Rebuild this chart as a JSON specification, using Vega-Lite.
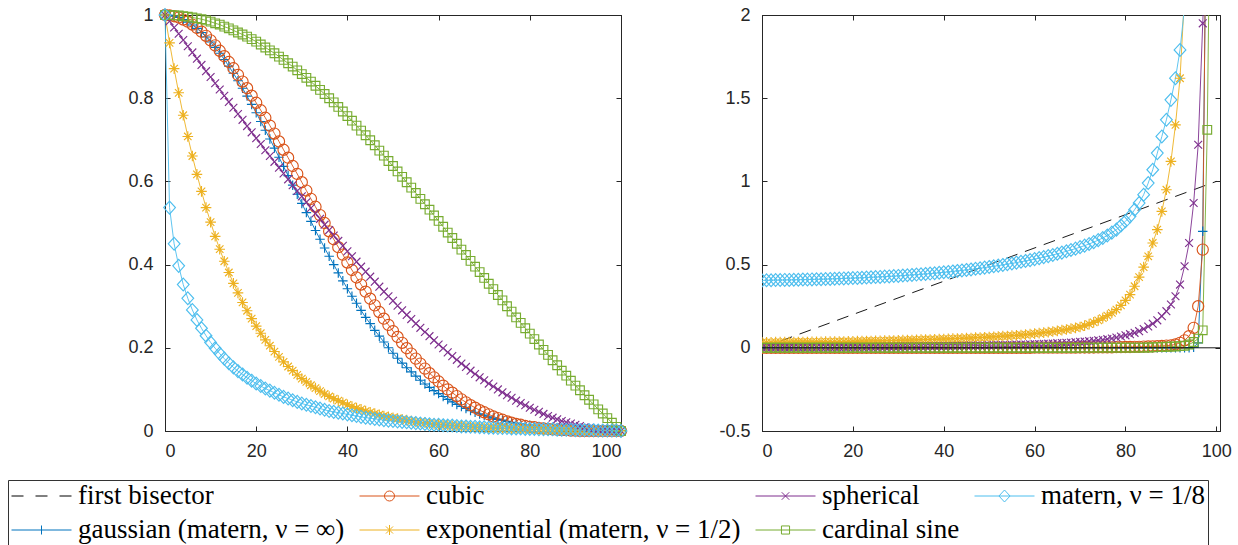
{
  "$schema": "https://vega.github.io/schema/vega-lite/v6.json",
  "padding": {"left": 7, "top": 5, "right": 5, "bottom": 0},
  "bounds": "flush",
  "spacing": 141,
  "config": {
    "view": {"stroke": "#262626", "strokeWidth": 1},
    "axis": {"grid": false, "title": null, "domainColor": "#262626", "domainWidth": 1, "tickColor": "#262626", "tickWidth": 1, "tickSize": -5, "labelColor": "#262626", "labelFont": "Liberation Sans", "labelFontSize": 18}
  },
  "datasets": {
    "series": [
      {"key": "bisector", "label": "first bisector", "rank": 0},
      {"key": "gaussian", "label": "gaussian (matern, ν = ∞)", "rank": 1},
      {"key": "cubic", "label": "cubic", "rank": 2},
      {"key": "exponential", "label": "exponential (matern, ν = 1/2)", "rank": 3},
      {"key": "spherical", "label": "spherical", "rank": 4},
      {"key": "sinc", "label": "cardinal sine", "rank": 5},
      {"key": "matern", "label": "matern, ν = 1/8", "rank": 6}
    ],
    "bisector": [{"x": 0, "y": 0}, {"x": 100, "y": 1}],
    "zero": [{"y": 0}],
    "left": [
      {"x":0,"gaussian":1,"cubic":1,"exponential":1,"spherical":1,"sinc":1,"matern":1},
      {"x":1,"gaussian":0.999,"cubic":0.999,"exponential":0.933,"spherical":0.985,"sinc":1,"matern":0.537},
      {"x":2,"gaussian":0.997,"cubic":0.997,"exponential":0.871,"spherical":0.97,"sinc":0.999,"matern":0.45},
      {"x":3,"gaussian":0.994,"cubic":0.994,"exponential":0.813,"spherical":0.955,"sinc":0.999,"matern":0.397},
      {"x":4,"gaussian":0.989,"cubic":0.989,"exponential":0.759,"spherical":0.94,"sinc":0.997,"matern":0.352},
      {"x":5,"gaussian":0.983,"cubic":0.984,"exponential":0.708,"spherical":0.925,"sinc":0.996,"matern":0.319},
      {"x":6,"gaussian":0.976,"cubic":0.977,"exponential":0.661,"spherical":0.91,"sinc":0.994,"matern":0.291},
      {"x":7,"gaussian":0.968,"cubic":0.969,"exponential":0.617,"spherical":0.895,"sinc":0.992,"matern":0.267},
      {"x":8,"gaussian":0.958,"cubic":0.96,"exponential":0.576,"spherical":0.88,"sinc":0.99,"matern":0.247},
      {"x":9,"gaussian":0.947,"cubic":0.95,"exponential":0.537,"spherical":0.865,"sinc":0.987,"matern":0.229},
      {"x":10,"gaussian":0.935,"cubic":0.939,"exponential":0.502,"spherical":0.851,"sinc":0.984,"matern":0.213},
      {"x":11,"gaussian":0.922,"cubic":0.927,"exponential":0.468,"spherical":0.836,"sinc":0.98,"matern":0.199},
      {"x":12,"gaussian":0.908,"cubic":0.914,"exponential":0.437,"spherical":0.821,"sinc":0.977,"matern":0.186},
      {"x":13,"gaussian":0.893,"cubic":0.901,"exponential":0.408,"spherical":0.806,"sinc":0.972,"matern":0.174},
      {"x":14,"gaussian":0.877,"cubic":0.887,"exponential":0.381,"spherical":0.791,"sinc":0.968,"matern":0.163},
      {"x":15,"gaussian":0.86,"cubic":0.872,"exponential":0.355,"spherical":0.777,"sinc":0.963,"matern":0.153},
      {"x":16,"gaussian":0.842,"cubic":0.856,"exponential":0.332,"spherical":0.762,"sinc":0.958,"matern":0.144},
      {"x":17,"gaussian":0.824,"cubic":0.84,"exponential":0.309,"spherical":0.748,"sinc":0.953,"matern":0.136},
      {"x":18,"gaussian":0.805,"cubic":0.824,"exponential":0.289,"spherical":0.733,"sinc":0.948,"matern":0.128},
      {"x":19,"gaussian":0.785,"cubic":0.806,"exponential":0.27,"spherical":0.718,"sinc":0.942,"matern":0.121},
      {"x":20,"gaussian":0.765,"cubic":0.789,"exponential":0.252,"spherical":0.704,"sinc":0.936,"matern":0.114},
      {"x":21,"gaussian":0.744,"cubic":0.771,"exponential":0.235,"spherical":0.69,"sinc":0.929,"matern":0.108},
      {"x":22,"gaussian":0.723,"cubic":0.753,"exponential":0.219,"spherical":0.675,"sinc":0.922,"matern":0.102},
      {"x":23,"gaussian":0.702,"cubic":0.734,"exponential":0.205,"spherical":0.661,"sinc":0.915,"matern":0.097},
      {"x":24,"gaussian":0.68,"cubic":0.715,"exponential":0.191,"spherical":0.647,"sinc":0.908,"matern":0.092},
      {"x":25,"gaussian":0.658,"cubic":0.696,"exponential":0.178,"spherical":0.633,"sinc":0.9,"matern":0.087},
      {"x":26,"gaussian":0.636,"cubic":0.676,"exponential":0.166,"spherical":0.619,"sinc":0.892,"matern":0.082},
      {"x":27,"gaussian":0.614,"cubic":0.657,"exponential":0.155,"spherical":0.605,"sinc":0.884,"matern":0.078},
      {"x":28,"gaussian":0.591,"cubic":0.637,"exponential":0.145,"spherical":0.591,"sinc":0.876,"matern":0.074},
      {"x":29,"gaussian":0.569,"cubic":0.618,"exponential":0.135,"spherical":0.577,"sinc":0.867,"matern":0.07},
      {"x":30,"gaussian":0.547,"cubic":0.598,"exponential":0.126,"spherical":0.564,"sinc":0.858,"matern":0.066},
      {"x":31,"gaussian":0.525,"cubic":0.578,"exponential":0.118,"spherical":0.55,"sinc":0.849,"matern":0.063},
      {"x":32,"gaussian":0.504,"cubic":0.558,"exponential":0.11,"spherical":0.536,"sinc":0.84,"matern":0.06},
      {"x":33,"gaussian":0.482,"cubic":0.539,"exponential":0.103,"spherical":0.523,"sinc":0.83,"matern":0.057},
      {"x":34,"gaussian":0.461,"cubic":0.519,"exponential":0.096,"spherical":0.51,"sinc":0.82,"matern":0.054},
      {"x":35,"gaussian":0.44,"cubic":0.5,"exponential":0.089,"spherical":0.496,"sinc":0.81,"matern":0.051},
      {"x":36,"gaussian":0.42,"cubic":0.48,"exponential":0.083,"spherical":0.483,"sinc":0.8,"matern":0.048},
      {"x":37,"gaussian":0.4,"cubic":0.461,"exponential":0.078,"spherical":0.47,"sinc":0.79,"matern":0.046},
      {"x":38,"gaussian":0.38,"cubic":0.442,"exponential":0.073,"spherical":0.457,"sinc":0.779,"matern":0.044},
      {"x":39,"gaussian":0.361,"cubic":0.424,"exponential":0.068,"spherical":0.445,"sinc":0.768,"matern":0.042},
      {"x":40,"gaussian":0.342,"cubic":0.405,"exponential":0.063,"spherical":0.432,"sinc":0.757,"matern":0.04},
      {"x":41,"gaussian":0.324,"cubic":0.387,"exponential":0.059,"spherical":0.42,"sinc":0.746,"matern":0.038},
      {"x":42,"gaussian":0.307,"cubic":0.369,"exponential":0.055,"spherical":0.407,"sinc":0.734,"matern":0.036},
      {"x":43,"gaussian":0.29,"cubic":0.352,"exponential":0.052,"spherical":0.395,"sinc":0.722,"matern":0.034},
      {"x":44,"gaussian":0.273,"cubic":0.335,"exponential":0.048,"spherical":0.383,"sinc":0.711,"matern":0.032},
      {"x":45,"gaussian":0.258,"cubic":0.318,"exponential":0.045,"spherical":0.371,"sinc":0.699,"matern":0.031},
      {"x":46,"gaussian":0.242,"cubic":0.302,"exponential":0.042,"spherical":0.359,"sinc":0.687,"matern":0.029},
      {"x":47,"gaussian":0.228,"cubic":0.286,"exponential":0.039,"spherical":0.347,"sinc":0.674,"matern":0.028},
      {"x":48,"gaussian":0.214,"cubic":0.27,"exponential":0.036,"spherical":0.335,"sinc":0.662,"matern":0.026},
      {"x":49,"gaussian":0.2,"cubic":0.255,"exponential":0.034,"spherical":0.324,"sinc":0.649,"matern":0.025},
      {"x":50,"gaussian":0.187,"cubic":0.24,"exponential":0.032,"spherical":0.313,"sinc":0.637,"matern":0.024},
      {"x":51,"gaussian":0.175,"cubic":0.226,"exponential":0.03,"spherical":0.301,"sinc":0.624,"matern":0.023},
      {"x":52,"gaussian":0.163,"cubic":0.212,"exponential":0.028,"spherical":0.29,"sinc":0.611,"matern":0.022},
      {"x":53,"gaussian":0.152,"cubic":0.199,"exponential":0.026,"spherical":0.279,"sinc":0.598,"matern":0.021},
      {"x":54,"gaussian":0.142,"cubic":0.186,"exponential":0.024,"spherical":0.269,"sinc":0.585,"matern":0.02},
      {"x":55,"gaussian":0.132,"cubic":0.174,"exponential":0.022,"spherical":0.258,"sinc":0.572,"matern":0.019},
      {"x":56,"gaussian":0.122,"cubic":0.162,"exponential":0.021,"spherical":0.248,"sinc":0.558,"matern":0.018},
      {"x":57,"gaussian":0.113,"cubic":0.15,"exponential":0.02,"spherical":0.238,"sinc":0.545,"matern":0.017},
      {"x":58,"gaussian":0.105,"cubic":0.139,"exponential":0.018,"spherical":0.228,"sinc":0.532,"matern":0.016},
      {"x":59,"gaussian":0.097,"cubic":0.129,"exponential":0.017,"spherical":0.218,"sinc":0.518,"matern":0.015},
      {"x":60,"gaussian":0.09,"cubic":0.119,"exponential":0.016,"spherical":0.208,"sinc":0.505,"matern":0.015},
      {"x":61,"gaussian":0.083,"cubic":0.109,"exponential":0.015,"spherical":0.199,"sinc":0.491,"matern":0.014},
      {"x":62,"gaussian":0.076,"cubic":0.1,"exponential":0.014,"spherical":0.189,"sinc":0.477,"matern":0.013},
      {"x":63,"gaussian":0.07,"cubic":0.092,"exponential":0.013,"spherical":0.18,"sinc":0.464,"matern":0.013},
      {"x":64,"gaussian":0.064,"cubic":0.084,"exponential":0.012,"spherical":0.171,"sinc":0.45,"matern":0.012},
      {"x":65,"gaussian":0.059,"cubic":0.076,"exponential":0.011,"spherical":0.162,"sinc":0.436,"matern":0.011},
      {"x":66,"gaussian":0.054,"cubic":0.069,"exponential":0.011,"spherical":0.154,"sinc":0.423,"matern":0.011},
      {"x":67,"gaussian":0.049,"cubic":0.062,"exponential":0.01,"spherical":0.145,"sinc":0.409,"matern":0.01},
      {"x":68,"gaussian":0.045,"cubic":0.056,"exponential":0.009,"spherical":0.137,"sinc":0.395,"matern":0.01},
      {"x":69,"gaussian":0.041,"cubic":0.05,"exponential":0.009,"spherical":0.129,"sinc":0.382,"matern":0.009},
      {"x":70,"gaussian":0.038,"cubic":0.045,"exponential":0.008,"spherical":0.122,"sinc":0.368,"matern":0.009},
      {"x":71,"gaussian":0.034,"cubic":0.04,"exponential":0.007,"spherical":0.114,"sinc":0.354,"matern":0.008},
      {"x":72,"gaussian":0.031,"cubic":0.035,"exponential":0.007,"spherical":0.107,"sinc":0.341,"matern":0.008},
      {"x":73,"gaussian":0.028,"cubic":0.031,"exponential":0.007,"spherical":0.1,"sinc":0.327,"matern":0.007},
      {"x":74,"gaussian":0.026,"cubic":0.027,"exponential":0.006,"spherical":0.093,"sinc":0.314,"matern":0.007},
      {"x":75,"gaussian":0.023,"cubic":0.023,"exponential":0.006,"spherical":0.086,"sinc":0.3,"matern":0.007},
      {"x":76,"gaussian":0.021,"cubic":0.02,"exponential":0.005,"spherical":0.08,"sinc":0.287,"matern":0.006},
      {"x":77,"gaussian":0.019,"cubic":0.017,"exponential":0.005,"spherical":0.073,"sinc":0.273,"matern":0.006},
      {"x":78,"gaussian":0.017,"cubic":0.015,"exponential":0.005,"spherical":0.067,"sinc":0.26,"matern":0.006},
      {"x":79,"gaussian":0.015,"cubic":0.012,"exponential":0.004,"spherical":0.062,"sinc":0.247,"matern":0.005},
      {"x":80,"gaussian":0.014,"cubic":0.01,"exponential":0.004,"spherical":0.056,"sinc":0.234,"matern":0.005},
      {"x":81,"gaussian":0.012,"cubic":0.009,"exponential":0.004,"spherical":0.051,"sinc":0.221,"matern":0.005},
      {"x":82,"gaussian":0.011,"cubic":0.007,"exponential":0.004,"spherical":0.046,"sinc":0.208,"matern":0.004},
      {"x":83,"gaussian":0.01,"cubic":0.006,"exponential":0.003,"spherical":0.041,"sinc":0.195,"matern":0.004},
      {"x":84,"gaussian":0.009,"cubic":0.005,"exponential":0.003,"spherical":0.036,"sinc":0.183,"matern":0.004},
      {"x":85,"gaussian":0.008,"cubic":0.004,"exponential":0.003,"spherical":0.032,"sinc":0.17,"matern":0.004},
      {"x":86,"gaussian":0.007,"cubic":0.003,"exponential":0.003,"spherical":0.028,"sinc":0.158,"matern":0.003},
      {"x":87,"gaussian":0.006,"cubic":0.002,"exponential":0.002,"spherical":0.024,"sinc":0.145,"matern":0.003},
      {"x":88,"gaussian":0.006,"cubic":0.002,"exponential":0.002,"spherical":0.021,"sinc":0.133,"matern":0.003},
      {"x":89,"gaussian":0.005,"cubic":0.001,"exponential":0.002,"spherical":0.018,"sinc":0.121,"matern":0.003},
      {"x":90,"gaussian":0.004,"cubic":0.001,"exponential":0.002,"spherical":0.015,"sinc":0.109,"matern":0.002},
      {"x":91,"gaussian":0.004,"cubic":0,"exponential":0.002,"spherical":0.012,"sinc":0.098,"matern":0.002},
      {"x":92,"gaussian":0.003,"cubic":0,"exponential":0.002,"spherical":0.009,"sinc":0.086,"matern":0.002},
      {"x":93,"gaussian":0.003,"cubic":0,"exponential":0.002,"spherical":0.007,"sinc":0.075,"matern":0.002},
      {"x":94,"gaussian":0.003,"cubic":0,"exponential":0.002,"spherical":0.005,"sinc":0.064,"matern":0.002},
      {"x":95,"gaussian":0.002,"cubic":0,"exponential":0.001,"spherical":0.004,"sinc":0.052,"matern":0.001},
      {"x":96,"gaussian":0.002,"cubic":0,"exponential":0.001,"spherical":0.002,"sinc":0.042,"matern":0.001},
      {"x":97,"gaussian":0.002,"cubic":0,"exponential":0.001,"spherical":0.001,"sinc":0.031,"matern":0.001},
      {"x":98,"gaussian":0.002,"cubic":0,"exponential":0.001,"spherical":0.001,"sinc":0.02,"matern":0.001},
      {"x":99,"gaussian":0.001,"cubic":0,"exponential":0.001,"spherical":0,"sinc":0.01,"matern":0.001},
      {"x":100,"gaussian":0.001,"cubic":0,"exponential":0.001,"spherical":0,"sinc":0,"matern":0}
    ],
    "right": [
      {"x":0,"gaussian":0,"cubic":0,"exponential":0.033,"spherical":0,"sinc":0,"matern":0.405},
      {"x":1,"gaussian":0,"cubic":0,"exponential":0.033,"spherical":0,"sinc":0,"matern":0.406},
      {"x":2,"gaussian":0,"cubic":0,"exponential":0.033,"spherical":0.001,"sinc":0,"matern":0.406},
      {"x":3,"gaussian":0,"cubic":0,"exponential":0.034,"spherical":0.001,"sinc":0,"matern":0.407},
      {"x":4,"gaussian":0,"cubic":0,"exponential":0.034,"spherical":0.001,"sinc":0,"matern":0.407},
      {"x":5,"gaussian":0,"cubic":0,"exponential":0.034,"spherical":0.001,"sinc":0,"matern":0.408},
      {"x":6,"gaussian":0,"cubic":0,"exponential":0.034,"spherical":0.001,"sinc":0,"matern":0.408},
      {"x":7,"gaussian":0,"cubic":0,"exponential":0.035,"spherical":0.002,"sinc":0,"matern":0.409},
      {"x":8,"gaussian":0,"cubic":0,"exponential":0.035,"spherical":0.002,"sinc":0,"matern":0.409},
      {"x":9,"gaussian":0,"cubic":0,"exponential":0.035,"spherical":0.002,"sinc":0,"matern":0.41},
      {"x":10,"gaussian":0,"cubic":0,"exponential":0.035,"spherical":0.002,"sinc":0,"matern":0.41},
      {"x":11,"gaussian":0,"cubic":0,"exponential":0.036,"spherical":0.002,"sinc":0,"matern":0.411},
      {"x":12,"gaussian":0,"cubic":0,"exponential":0.036,"spherical":0.002,"sinc":0,"matern":0.412},
      {"x":13,"gaussian":0,"cubic":0,"exponential":0.036,"spherical":0.003,"sinc":0,"matern":0.412},
      {"x":14,"gaussian":0,"cubic":0,"exponential":0.037,"spherical":0.003,"sinc":0,"matern":0.413},
      {"x":15,"gaussian":0,"cubic":0,"exponential":0.037,"spherical":0.003,"sinc":0,"matern":0.414},
      {"x":16,"gaussian":0,"cubic":0,"exponential":0.037,"spherical":0.003,"sinc":0,"matern":0.415},
      {"x":17,"gaussian":0,"cubic":0,"exponential":0.038,"spherical":0.003,"sinc":0,"matern":0.416},
      {"x":18,"gaussian":0,"cubic":0,"exponential":0.038,"spherical":0.004,"sinc":0,"matern":0.417},
      {"x":19,"gaussian":0,"cubic":0,"exponential":0.039,"spherical":0.004,"sinc":0,"matern":0.418},
      {"x":20,"gaussian":0,"cubic":0,"exponential":0.039,"spherical":0.004,"sinc":0,"matern":0.419},
      {"x":21,"gaussian":0,"cubic":0,"exponential":0.04,"spherical":0.004,"sinc":0,"matern":0.42},
      {"x":22,"gaussian":0,"cubic":0,"exponential":0.04,"spherical":0.005,"sinc":0,"matern":0.421},
      {"x":23,"gaussian":0,"cubic":0,"exponential":0.041,"spherical":0.005,"sinc":0,"matern":0.422},
      {"x":24,"gaussian":0,"cubic":0,"exponential":0.041,"spherical":0.005,"sinc":0,"matern":0.424},
      {"x":25,"gaussian":0,"cubic":0,"exponential":0.042,"spherical":0.005,"sinc":0,"matern":0.425},
      {"x":26,"gaussian":0,"cubic":0,"exponential":0.042,"spherical":0.006,"sinc":0,"matern":0.426},
      {"x":27,"gaussian":0,"cubic":0,"exponential":0.043,"spherical":0.006,"sinc":0,"matern":0.428},
      {"x":28,"gaussian":0,"cubic":0,"exponential":0.044,"spherical":0.006,"sinc":0,"matern":0.429},
      {"x":29,"gaussian":0,"cubic":0,"exponential":0.044,"spherical":0.007,"sinc":0,"matern":0.431},
      {"x":30,"gaussian":0,"cubic":0,"exponential":0.045,"spherical":0.007,"sinc":0,"matern":0.432},
      {"x":31,"gaussian":0,"cubic":0,"exponential":0.046,"spherical":0.007,"sinc":0,"matern":0.434},
      {"x":32,"gaussian":0,"cubic":0,"exponential":0.046,"spherical":0.008,"sinc":0,"matern":0.436},
      {"x":33,"gaussian":0,"cubic":0,"exponential":0.047,"spherical":0.008,"sinc":0,"matern":0.438},
      {"x":34,"gaussian":0,"cubic":0,"exponential":0.048,"spherical":0.008,"sinc":0,"matern":0.44},
      {"x":35,"gaussian":0,"cubic":0,"exponential":0.049,"spherical":0.008,"sinc":0,"matern":0.442},
      {"x":36,"gaussian":0,"cubic":0,"exponential":0.05,"spherical":0.009,"sinc":0,"matern":0.444},
      {"x":37,"gaussian":0,"cubic":0,"exponential":0.05,"spherical":0.009,"sinc":0,"matern":0.446},
      {"x":38,"gaussian":0,"cubic":0,"exponential":0.051,"spherical":0.009,"sinc":0,"matern":0.448},
      {"x":39,"gaussian":0,"cubic":0,"exponential":0.052,"spherical":0.01,"sinc":0,"matern":0.451},
      {"x":40,"gaussian":0,"cubic":0,"exponential":0.053,"spherical":0.01,"sinc":0,"matern":0.454},
      {"x":41,"gaussian":0,"cubic":0,"exponential":0.054,"spherical":0.01,"sinc":0,"matern":0.456},
      {"x":42,"gaussian":0,"cubic":0,"exponential":0.055,"spherical":0.011,"sinc":0,"matern":0.459},
      {"x":43,"gaussian":0,"cubic":0,"exponential":0.056,"spherical":0.011,"sinc":0,"matern":0.462},
      {"x":44,"gaussian":0,"cubic":0,"exponential":0.057,"spherical":0.012,"sinc":0,"matern":0.465},
      {"x":45,"gaussian":0,"cubic":0,"exponential":0.058,"spherical":0.012,"sinc":0,"matern":0.468},
      {"x":46,"gaussian":0,"cubic":0,"exponential":0.059,"spherical":0.013,"sinc":0,"matern":0.471},
      {"x":47,"gaussian":0,"cubic":0,"exponential":0.061,"spherical":0.013,"sinc":0,"matern":0.475},
      {"x":48,"gaussian":0,"cubic":0,"exponential":0.062,"spherical":0.014,"sinc":0,"matern":0.478},
      {"x":49,"gaussian":0,"cubic":0,"exponential":0.063,"spherical":0.014,"sinc":0,"matern":0.482},
      {"x":50,"gaussian":0,"cubic":0,"exponential":0.065,"spherical":0.015,"sinc":0,"matern":0.486},
      {"x":51,"gaussian":0,"cubic":0,"exponential":0.066,"spherical":0.016,"sinc":0,"matern":0.49},
      {"x":52,"gaussian":0,"cubic":0,"exponential":0.068,"spherical":0.016,"sinc":0,"matern":0.494},
      {"x":53,"gaussian":0,"cubic":0,"exponential":0.07,"spherical":0.017,"sinc":0,"matern":0.498},
      {"x":54,"gaussian":0,"cubic":0,"exponential":0.071,"spherical":0.017,"sinc":0,"matern":0.503},
      {"x":55,"gaussian":0,"cubic":0,"exponential":0.073,"spherical":0.018,"sinc":0,"matern":0.507},
      {"x":56,"gaussian":0,"cubic":0,"exponential":0.075,"spherical":0.019,"sinc":0,"matern":0.512},
      {"x":57,"gaussian":0,"cubic":0,"exponential":0.077,"spherical":0.02,"sinc":0,"matern":0.517},
      {"x":58,"gaussian":0,"cubic":0,"exponential":0.079,"spherical":0.02,"sinc":0,"matern":0.522},
      {"x":59,"gaussian":0,"cubic":0,"exponential":0.082,"spherical":0.021,"sinc":0,"matern":0.527},
      {"x":60,"gaussian":0,"cubic":0.001,"exponential":0.085,"spherical":0.022,"sinc":0,"matern":0.533},
      {"x":61,"gaussian":0,"cubic":0.001,"exponential":0.088,"spherical":0.023,"sinc":0,"matern":0.539},
      {"x":62,"gaussian":0,"cubic":0.001,"exponential":0.091,"spherical":0.024,"sinc":0,"matern":0.545},
      {"x":63,"gaussian":0,"cubic":0.001,"exponential":0.094,"spherical":0.025,"sinc":0,"matern":0.551},
      {"x":64,"gaussian":0,"cubic":0.001,"exponential":0.098,"spherical":0.026,"sinc":0,"matern":0.558},
      {"x":65,"gaussian":0,"cubic":0.001,"exponential":0.102,"spherical":0.028,"sinc":0,"matern":0.565},
      {"x":66,"gaussian":0,"cubic":0.001,"exponential":0.106,"spherical":0.029,"sinc":0,"matern":0.572},
      {"x":67,"gaussian":0,"cubic":0.001,"exponential":0.11,"spherical":0.03,"sinc":0,"matern":0.58},
      {"x":68,"gaussian":0,"cubic":0.001,"exponential":0.115,"spherical":0.032,"sinc":0,"matern":0.588},
      {"x":69,"gaussian":0,"cubic":0.001,"exponential":0.12,"spherical":0.034,"sinc":0,"matern":0.596},
      {"x":70,"gaussian":0,"cubic":0.002,"exponential":0.125,"spherical":0.036,"sinc":0.001,"matern":0.605},
      {"x":71,"gaussian":0,"cubic":0.002,"exponential":0.133,"spherical":0.038,"sinc":0.001,"matern":0.614},
      {"x":72,"gaussian":0,"cubic":0.002,"exponential":0.142,"spherical":0.04,"sinc":0.001,"matern":0.624},
      {"x":73,"gaussian":0,"cubic":0.002,"exponential":0.153,"spherical":0.042,"sinc":0.001,"matern":0.635},
      {"x":74,"gaussian":0,"cubic":0.003,"exponential":0.165,"spherical":0.045,"sinc":0.001,"matern":0.647},
      {"x":75,"gaussian":0,"cubic":0.003,"exponential":0.178,"spherical":0.048,"sinc":0.001,"matern":0.66},
      {"x":76,"gaussian":0,"cubic":0.003,"exponential":0.193,"spherical":0.052,"sinc":0.001,"matern":0.675},
      {"x":77,"gaussian":0,"cubic":0.003,"exponential":0.21,"spherical":0.056,"sinc":0.001,"matern":0.692},
      {"x":78,"gaussian":0,"cubic":0.004,"exponential":0.23,"spherical":0.062,"sinc":0.001,"matern":0.71},
      {"x":79,"gaussian":0,"cubic":0.004,"exponential":0.255,"spherical":0.068,"sinc":0.001,"matern":0.735},
      {"x":80,"gaussian":0,"cubic":0.005,"exponential":0.285,"spherical":0.075,"sinc":0.001,"matern":0.76},
      {"x":81,"gaussian":0,"cubic":0.005,"exponential":0.32,"spherical":0.082,"sinc":0.001,"matern":0.79},
      {"x":82,"gaussian":0,"cubic":0.006,"exponential":0.37,"spherical":0.09,"sinc":0.001,"matern":0.83},
      {"x":83,"gaussian":0,"cubic":0.006,"exponential":0.425,"spherical":0.1,"sinc":0.001,"matern":0.87},
      {"x":84,"gaussian":0,"cubic":0.007,"exponential":0.485,"spherical":0.113,"sinc":0.001,"matern":0.92},
      {"x":85,"gaussian":0,"cubic":0.008,"exponential":0.55,"spherical":0.128,"sinc":0.002,"matern":0.99},
      {"x":86,"gaussian":0,"cubic":0.009,"exponential":0.63,"spherical":0.145,"sinc":0.003,"matern":1.07},
      {"x":87,"gaussian":0,"cubic":0.01,"exponential":0.71,"spherical":0.165,"sinc":0.004,"matern":1.17},
      {"x":88,"gaussian":0,"cubic":0.011,"exponential":0.82,"spherical":0.19,"sinc":0.005,"matern":1.27},
      {"x":89,"gaussian":0,"cubic":0.013,"exponential":0.95,"spherical":0.22,"sinc":0.006,"matern":1.37},
      {"x":90,"gaussian":0,"cubic":0.015,"exponential":1.12,"spherical":0.26,"sinc":0.007,"matern":1.49},
      {"x":91,"gaussian":0,"cubic":0.02,"exponential":1.34,"spherical":0.31,"sinc":0.008,"matern":1.62},
      {"x":92,"gaussian":0,"cubic":0.03,"exponential":1.62,"spherical":0.38,"sinc":0.01,"matern":1.79},
      {"x":93,"gaussian":0,"cubic":0.045,"exponential":2.12,"spherical":0.49,"sinc":0.012,"matern":2.05},
      {"x":94,"gaussian":0.001,"cubic":0.07,"spherical":0.63,"sinc":0.02},
      {"x":95,"gaussian":0.004,"cubic":0.12,"spherical":0.87,"sinc":0.035},
      {"x":96,"gaussian":0.03,"cubic":0.25,"spherical":1.22,"sinc":0.055},
      {"x":97,"gaussian":0.7,"cubic":0.59,"spherical":1.95,"sinc":0.105},
      {"x":98,"gaussian":3.3,"cubic":3.4,"spherical":2.6,"sinc":1.31},
      {"x":99,"sinc":3.6}
    ]
  },
  "resolve": {"scale": {"color": "independent", "shape": "independent"}},
  "hconcat": [
    {
      "width": 456,
      "height": 416,
      "resolve": {"scale": {"color": "independent", "shape": "independent"}, "axis": {"x": "independent", "y": "independent"}},
      "layer": [
        {
          "data": {"name": "left"},
          "transform": [
            {"fold": ["gaussian", "cubic", "exponential", "spherical", "sinc", "matern"], "as": ["key", "value"]},
            {"lookup": "key", "from": {"data": {"name": "series"}, "key": "key", "fields": ["label", "rank"]}}
          ],
          "mark": {"type": "line", "strokeWidth": 0.9},
          "encoding": {
            "x": {"field": "x", "type": "quantitative", "scale": {"domain": [0, 100], "nice": false, "zero": false}, "axis": {"orient": "bottom", "values": [0, 20, 40, 60, 80, 100], "labelPadding": 16}},
            "y": {"field": "value", "type": "quantitative", "scale": {"domain": [0, 1], "nice": false, "zero": false}, "axis": {"orient": "left", "values": [0, 0.2, 0.4, 0.6, 0.8, 1], "labelPadding": 17, "labelExpr": "format(datum.value, '~g')"}},
            "color": {"field": "label", "type": "nominal", "legend": null, "scale": {"domain": ["first bisector", "gaussian (matern, ν = ∞)", "cubic", "exponential (matern, ν = 1/2)", "spherical", "cardinal sine", "matern, ν = 1/8"], "range": ["#000000", "#0072BD", "#D95319", "#EDB120", "#7E2F8E", "#77AC30", "#4DBEEE"]}}
          }
        },
        {
          "data": {"name": "left"},
          "transform": [
            {"fold": ["gaussian", "cubic", "exponential", "spherical", "sinc", "matern"], "as": ["key", "value"]},
            {"lookup": "key", "from": {"data": {"name": "series"}, "key": "key", "fields": ["label", "rank"]}}
          ],
          "mark": {"type": "point", "filled": false, "strokeWidth": 1.15, "size": 125, "opacity": 1},
          "encoding": {
            "x": {"field": "x", "type": "quantitative", "scale": {"domain": [0, 100], "nice": false, "zero": false}, "axis": {"orient": "top", "values": [0, 20, 40, 60, 80, 100], "labels": false}},
            "y": {"field": "value", "type": "quantitative", "scale": {"domain": [0, 1], "nice": false, "zero": false}, "axis": {"orient": "right", "values": [0, 0.2, 0.4, 0.6, 0.8, 1], "labels": false}},
            "color": {"field": "label", "type": "nominal", "legend": null, "scale": {"domain": ["first bisector", "gaussian (matern, ν = ∞)", "cubic", "exponential (matern, ν = 1/2)", "spherical", "cardinal sine", "matern, ν = 1/8"], "range": ["#000000", "#0072BD", "#D95319", "#EDB120", "#7E2F8E", "#77AC30", "#4DBEEE"]}},
            "shape": {"field": "label", "type": "nominal", "legend": null, "scale": {"domain": ["first bisector", "gaussian (matern, ν = ∞)", "cubic", "exponential (matern, ν = 1/2)", "spherical", "cardinal sine", "matern, ν = 1/8"], "range": ["M0,0L0,0", "M-0.85,0H0.85M0,-0.85V0.85", "circle", "M-0.95,0H0.95M0,-0.95V0.95M-0.67,-0.67L0.67,0.67M-0.67,0.67L0.67,-0.67", "M-0.7,-0.7L0.7,0.7M-0.7,0.7L0.7,-0.7", "M-0.78,-0.78H0.78V0.78H-0.78Z", "M0,-1.15L1.05,0L0,1.15L-1.05,0Z"]}},
            "order": {"field": "rank", "type": "quantitative"}
          }
        },
        {
          "data": {"name": "series"},
          "mark": {"type": "point", "filled": false, "opacity": 0},
          "encoding": {
            "color": {"field": "label", "type": "nominal", "scale": {"domain": ["first bisector", "gaussian (matern, ν = ∞)", "cubic", "exponential (matern, ν = 1/2)", "spherical", "cardinal sine", "matern, ν = 1/8"], "range": ["#000000", "#0072BD", "#D95319", "#EDB120", "#7E2F8E", "#77AC30", "#4DBEEE"]},
              "legend": {"title": null, "orient": "none", "legendX": -157, "legendY": 465, "columns": 4, "symbolSize": 3600, "symbolStrokeWidth": 1, "symbolOpacity": 1, "labelFont": "Liberation Serif", "labelFontSize": 27, "labelColor": "#000000", "labelLimit": 800, "labelOffset": 6, "clipHeight": 26, "rowPadding": 7, "columnPadding": 14, "padding": 3, "strokeColor": "#333333", "fillColor": "#ffffff"}},
            "shape": {"field": "label", "type": "nominal", "scale": {"domain": ["first bisector", "gaussian (matern, ν = ∞)", "cubic", "exponential (matern, ν = 1/2)", "spherical", "cardinal sine", "matern, ν = 1/8"], "range": ["M-1,0H-0.6M-0.2,0H0.2M0.6,0H1", "M-1,0H1M0,-0.15V0.15", "M-1,0H1M-0.167,0A0.167,0.167 0 1,1 0.167,0A0.167,0.167 0 1,1 -0.167,0Z", "M-1,0H1M0,-0.167V0.167M-0.118,-0.118L0.118,0.118M-0.118,0.118L0.118,-0.118", "M-1,0H1M-0.125,-0.125L0.125,0.125M-0.125,0.125L0.125,-0.125", "M-1,0H1M-0.135,-0.135H0.135V0.135H-0.135Z", "M-1,0H1M0,-0.2L0.185,0L0,0.2L-0.185,0Z"]},
              "legend": {"title": null, "orient": "none", "legendX": -157, "legendY": 465, "columns": 4, "symbolSize": 3600, "symbolStrokeWidth": 1, "symbolOpacity": 1, "labelFont": "Liberation Serif", "labelFontSize": 27, "labelColor": "#000000", "labelLimit": 800, "labelOffset": 6, "clipHeight": 26, "rowPadding": 7, "columnPadding": 14, "padding": 3, "strokeColor": "#333333", "fillColor": "#ffffff"}}
          }
        }
      ]
    },
    {
      "width": 458,
      "height": 416,
      "resolve": {"scale": {"color": "independent", "shape": "independent"}, "axis": {"x": "independent", "y": "independent"}},
      "layer": [
        {
          "data": {"name": "bisector"},
          "mark": {"type": "line", "color": "#000000", "strokeDash": [12, 8], "strokeWidth": 0.9, "clip": true},
          "encoding": {
            "x": {"field": "x", "type": "quantitative", "scale": {"domain": [0, 100.8], "nice": false, "zero": false}, "axis": {"orient": "bottom", "values": [0, 20, 40, 60, 80, 100], "labelPadding": 16}},
            "y": {"field": "y", "type": "quantitative", "scale": {"domain": [-0.5, 2], "nice": false, "zero": false}, "axis": {"orient": "left", "values": [-0.5, 0, 0.5, 1, 1.5, 2], "labelPadding": 17, "labelExpr": "datum.value < 0 ? '-' + format(-datum.value, '~g') : format(datum.value, '~g')"}}
          }
        },
        {
          "data": {"name": "right"},
          "transform": [
            {"fold": ["gaussian", "cubic", "exponential", "spherical", "sinc", "matern"], "as": ["key", "value"]},
            {"lookup": "key", "from": {"data": {"name": "series"}, "key": "key", "fields": ["label", "rank"]}}
          ],
          "mark": {"type": "line", "strokeWidth": 0.9, "clip": true},
          "encoding": {
            "x": {"field": "x", "type": "quantitative", "scale": {"domain": [0, 100.8], "nice": false, "zero": false}, "axis": null},
            "y": {"field": "value", "type": "quantitative", "scale": {"domain": [-0.5, 2], "nice": false, "zero": false}, "axis": null},
            "color": {"field": "label", "type": "nominal", "legend": null, "scale": {"domain": ["first bisector", "gaussian (matern, ν = ∞)", "cubic", "exponential (matern, ν = 1/2)", "spherical", "cardinal sine", "matern, ν = 1/8"], "range": ["#000000", "#0072BD", "#D95319", "#EDB120", "#7E2F8E", "#77AC30", "#4DBEEE"]}}
          }
        },
        {
          "data": {"name": "right"},
          "transform": [
            {"fold": ["gaussian", "cubic", "exponential", "spherical", "sinc", "matern"], "as": ["key", "value"]},
            {"lookup": "key", "from": {"data": {"name": "series"}, "key": "key", "fields": ["label", "rank"]}}
          ],
          "mark": {"type": "point", "filled": false, "strokeWidth": 1.15, "size": 125, "opacity": 1, "clip": true},
          "encoding": {
            "x": {"field": "x", "type": "quantitative", "scale": {"domain": [0, 100.8], "nice": false, "zero": false}, "axis": {"orient": "top", "values": [0, 20, 40, 60, 80, 100], "labels": false}},
            "y": {"field": "value", "type": "quantitative", "scale": {"domain": [-0.5, 2], "nice": false, "zero": false}, "axis": {"orient": "right", "values": [-0.5, 0, 0.5, 1, 1.5, 2], "labels": false}},
            "color": {"field": "label", "type": "nominal", "legend": null, "scale": {"domain": ["first bisector", "gaussian (matern, ν = ∞)", "cubic", "exponential (matern, ν = 1/2)", "spherical", "cardinal sine", "matern, ν = 1/8"], "range": ["#000000", "#0072BD", "#D95319", "#EDB120", "#7E2F8E", "#77AC30", "#4DBEEE"]}},
            "shape": {"field": "label", "type": "nominal", "legend": null, "scale": {"domain": ["first bisector", "gaussian (matern, ν = ∞)", "cubic", "exponential (matern, ν = 1/2)", "spherical", "cardinal sine", "matern, ν = 1/8"], "range": ["M0,0L0,0", "M-0.85,0H0.85M0,-0.85V0.85", "circle", "M-0.95,0H0.95M0,-0.95V0.95M-0.67,-0.67L0.67,0.67M-0.67,0.67L0.67,-0.67", "M-0.7,-0.7L0.7,0.7M-0.7,0.7L0.7,-0.7", "M-0.78,-0.78H0.78V0.78H-0.78Z", "M0,-1.15L1.05,0L0,1.15L-1.05,0Z"]}},
            "order": {"field": "rank", "type": "quantitative"}
          }
        },
        {
          "data": {"name": "zero"},
          "mark": {"type": "rule", "color": "#000000", "strokeWidth": 0.9},
          "encoding": {
            "y": {"field": "y", "type": "quantitative", "scale": {"domain": [-0.5, 2], "nice": false, "zero": false}, "axis": null}
          }
        }
      ]
    }
  ]
}
